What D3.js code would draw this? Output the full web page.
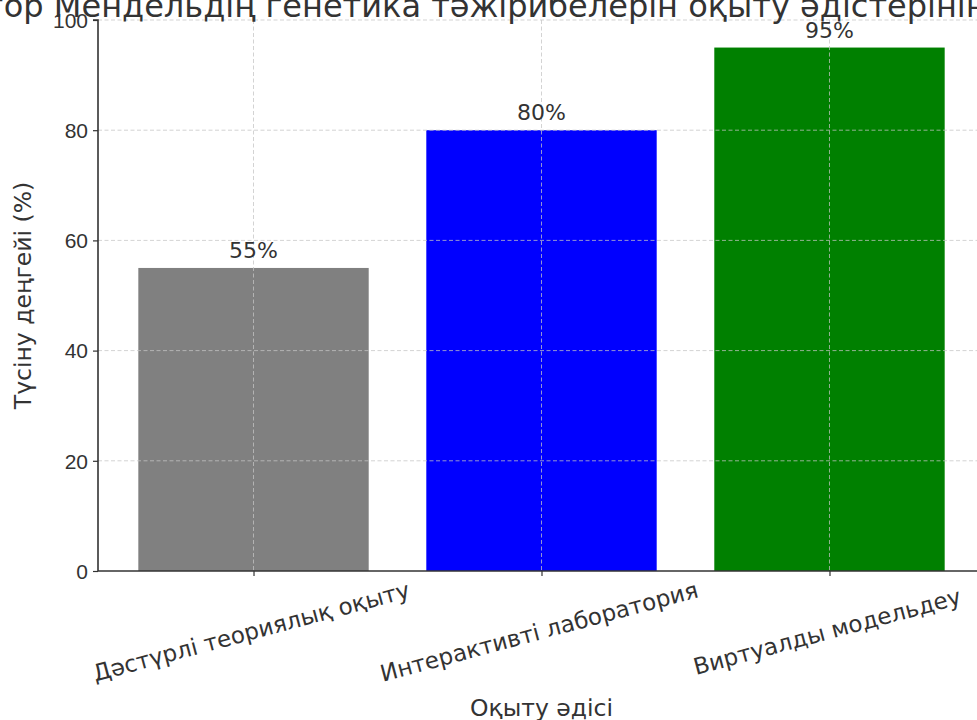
<!DOCTYPE html>
<html>
<head>
<meta charset="utf-8">
<script src="https://cdn.jsdelivr.net/npm/d3@7"></script>
<style>
  html, body { margin: 0; padding: 0; background: #fff; overflow: hidden; }
  svg { display: block; font-family: "DejaVu Sans", sans-serif; }
</style>
</head>
<body>
<svg id="chart" width="977" height="720"></svg>
<script>
// Teaching methods and the share of students who understood the material
const methods = ["Дәстүрлі теориялық оқыту", "Интерактивті лаборатория", "Виртуалды модельдеу"];
const understanding = [55, 80, 95];
const barColors = ["#808080", "#0000ff", "#008000"];
const yTicks = [0, 20, 40, 60, 80, 100];

const titleText = "Грегор Мендельдің генетика тәжірибелерін оқыту әдістерінің тиімділігі";
const xLabel = "Оқыту әдісі";
const yLabel = "Түсіну деңгейі (%)";

const svg = d3.select("#chart");
const margin = { left: 98, top: 20 };
const plotW = 985 - margin.left;
const plotH = 571 - margin.top;
const textColor = "#333333";

// Categorical positions with matplotlib-like margins (bar width 0.8)
const x = d3.scaleLinear().domain([-0.54, methods.length - 1 + 0.54]).range([margin.left, margin.left + plotW]);
const y = d3.scaleLinear().domain([0, 100]).range([margin.top + plotH, margin.top]);
const barW = x(0.4) - x(-0.4);

// Bars
svg.append("g").selectAll("rect")
  .data(understanding)
  .join("rect")
  .attr("x", (d, i) => x(i) - barW / 2)
  .attr("y", d => y(d))
  .attr("width", barW)
  .attr("height", d => y(0) - y(d))
  .attr("fill", (d, i) => barColors[i]);

// Dashed grid over the bars
const grid = svg.append("g")
  .attr("stroke", "#c4c4c4")
  .attr("stroke-opacity", 0.75)
  .attr("stroke-width", 1)
  .attr("stroke-dasharray", "4,2.5");
grid.selectAll("line.h")
  .data(yTicks.filter(t => t > 0))
  .join("line")
  .attr("x1", margin.left).attr("x2", margin.left + plotW)
  .attr("y1", d => y(d)).attr("y2", d => y(d));
grid.selectAll("line.v")
  .data(methods)
  .join("line")
  .attr("x1", (d, i) => x(i)).attr("x2", (d, i) => x(i))
  .attr("y1", margin.top).attr("y2", margin.top + plotH);

// Y axis
const yAxis = svg.append("g")
  .attr("transform", `translate(${margin.left},0)`)
  .call(d3.axisLeft(y).tickValues(yTicks).tickSize(5).tickPadding(5).tickFormat(d3.format("d")));
yAxis.select(".domain").attr("stroke", textColor).attr("stroke-width", 1.6).attr("d", `M-5,${y(100)}H0V${y(0)}`);
yAxis.selectAll(".tick line").attr("stroke", textColor).attr("stroke-width", 1.2);
yAxis.selectAll(".tick text").attr("fill", textColor).style("font-size", "21px").attr("dy", "0.35em");

// X axis
const xAxis = svg.append("g")
  .attr("transform", `translate(0,${y(0)})`)
  .call(d3.axisBottom(x).tickValues(d3.range(methods.length)).tickSize(5).tickFormat(""));
xAxis.select(".domain").attr("stroke", textColor).attr("stroke-width", 1.6).attr("d", `M${margin.left},0H${margin.left + plotW}`);
xAxis.selectAll(".tick line").attr("stroke", textColor).attr("stroke-width", 1.2);

// Rotated category labels
svg.append("g").selectAll("text")
  .data(methods)
  .join("text")
  .attr("transform", (d, i) => `translate(${x(i) - 2},${y(0) + 62}) rotate(-15)`)
  .attr("text-anchor", "middle")
  .attr("dominant-baseline", "middle")
  .attr("fill", textColor)
  .style("font-size", "23px")
  .text(d => d);

// Value labels above bars
svg.append("g").selectAll("text")
  .data(understanding)
  .join("text")
  .attr("x", (d, i) => x(i))
  .attr("y", d => y(d) - 10)
  .attr("text-anchor", "middle")
  .attr("fill", textColor)
  .style("font-size", "22px")
  .text(d => d + "%");

// Axis titles
svg.append("text")
  .attr("x", margin.left + plotW / 2)
  .attr("y", 716)
  .attr("text-anchor", "middle")
  .attr("fill", textColor)
  .style("font-size", "23.5px")
  .text(xLabel);

svg.append("text")
  .attr("transform", `translate(31,${margin.top + plotH / 2}) rotate(-90)`)
  .attr("text-anchor", "middle")
  .attr("fill", textColor)
  .style("font-size", "23.5px")
  .text(yLabel);

// Chart title
svg.append("text")
  .attr("x", margin.left + plotW / 2)
  .attr("y", 17)
  .attr("text-anchor", "middle")
  .attr("fill", textColor)
  .style("font-size", "32px")
  .text(titleText);
</script>
</body>
</html>
